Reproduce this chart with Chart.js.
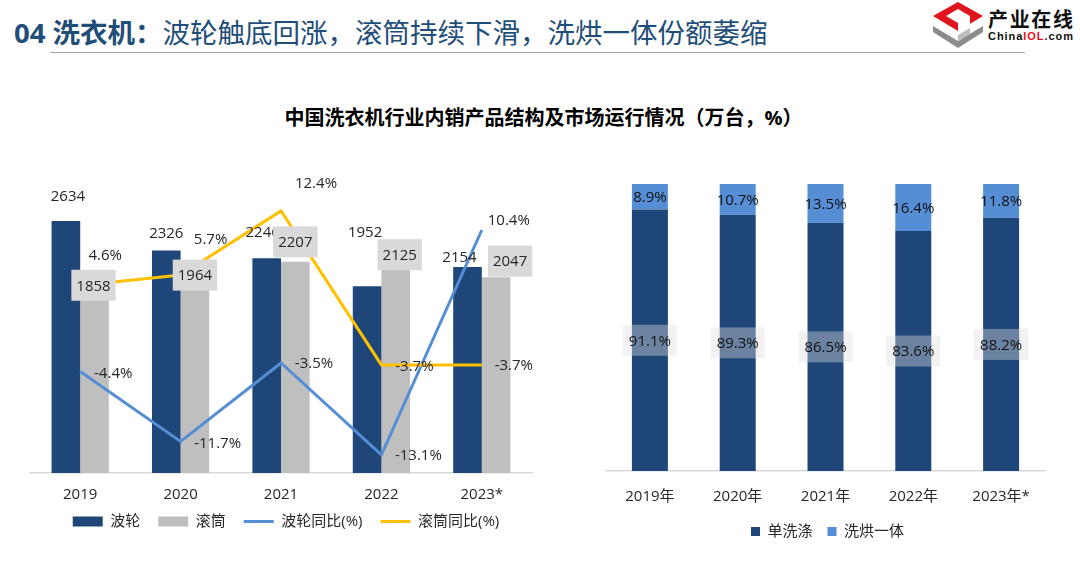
<!DOCTYPE html>
<html>
<head>
<meta charset="utf-8">
<script src="https://cdn.jsdelivr.net/npm/chart.js@4.4.0/dist/chart.umd.min.js"></script>
<style>
  html,body{margin:0;padding:0;}
  body{width:1080px;height:586px;background:#fff;position:relative;overflow:hidden;
       font-family:'Open Sans','Noto Sans CJK SC',sans-serif;}
  #title{position:absolute;left:14px;top:19px;font-size:27.5px;line-height:28px;color:#1F4E79;white-space:nowrap;}
  #title b{font-weight:700;}
  #rule{position:absolute;left:50px;top:52px;width:975px;height:1px;background:#a6a6a6;}
  #ctitle{position:absolute;left:0;width:1087px;top:107px;text-align:center;font-size:20px;line-height:22px;
          font-weight:700;color:#000;white-space:nowrap;}
  #c1wrap{position:absolute;left:0;top:140px;width:560px;height:411px;}
  #c2wrap{position:absolute;left:580px;top:140px;width:500px;height:410px;}
  #logo{position:absolute;left:925px;top:0;}
</style>
</head>
<body>
<div id="title"><b>04 洗衣机：</b>波轮触底回涨，滚筒持续下滑，洗烘一体份额萎缩</div>
<div id="rule"></div>
<svg id="logo" width="155" height="52" viewBox="0 0 155 52">
  <polygon points="33,2 58,16 33,31 8,16" fill="#e0151b"/>
  <polygon points="33,9 45,16 33,23 21,16" fill="#fff"/>
  <polygon points="33,16 45,16 45,28 33,35" fill="#fff"/>
  <polygon points="8,26 33,41 58,26 58,32 33,48 8,32" fill="#8c8c8c"/>
  <polygon points="33,35 45,28 45,34 33,41" fill="#bdbdbd"/>
  <text x="63" y="27" font-size="20" font-weight="700" fill="#111" textLength="85" font-family="'Noto Sans CJK SC',sans-serif">产业在线</text>
  <text x="63" y="40" font-size="11" font-weight="700" fill="#111" textLength="85" font-family="'Liberation Sans',Arial,sans-serif">China<tspan fill="#e0151b">IOL</tspan>.com</text>
</svg>
<div id="ctitle">中国洗衣机行业内销产品结构及市场运行情况（万台，%）</div>
<div id="c1wrap"><canvas id="c1"></canvas></div>
<div id="c2wrap"><canvas id="c2"></canvas></div>

<script>
// ---------- data ----------
const years = ['2019', '2020', '2021', '2022', '2023*'];
const pulsatorUnits = [2634, 2326, 2246, 1952, 2154];      // 波轮 (万台)
const drumUnits = [1858, 1964, 2207, 2125, 2047];          // 滚筒 (万台)
const pulsatorYoY = [-4.4, -11.7, -3.5, -13.1, 10.4];      // 波轮同比 (%)
const drumYoY = [4.6, 5.7, 12.4, -3.7, -3.7];              // 滚筒同比 (%)

const yearsCN = ['2019年', '2020年', '2021年', '2022年', '2023年*'];
const singleWashShare = [91.1, 89.3, 86.5, 83.6, 88.2];    // 单洗涤 (%)
const washDryShare = [8.9, 10.7, 13.5, 16.4, 11.8];        // 洗烘一体 (%)

// ---------- label placement (styling only) ----------
const offPulsator = [[2,-25],[0,-18],[-4,-26],[-2,-55],[-8,-10]];
const offDrum = [[-1,-10],[0,-10],[0,-20],[4,-15],[14,-16]];
const offPulsatorYoY = [[33,1],[37,1],[33,0],[37,0],[27,-10]];
const offDrumYoY = [[25,-31],[30,-36],[35,-28],[33,1],[32,0]];

// ---------- styles ----------
const FONT = "'Open Sans','Noto Sans CJK SC',sans-serif";
const NAVY = '#1F4679';
const GRAY = '#BFBFBF';
const BLUE = '#558ED5';
const GOLD = '#FFC000';
const LIGHTBLUE = '#558ED5';
const TXT = '#262626';

Chart.defaults.font.family = FONT;
Chart.defaults.color = TXT;

function makeLabels(items) {
  return {
    id: 'valueLabels',
    afterDatasetsDraw(chart) {
      const ctx = chart.ctx;
      items.forEach(item => {
        const meta = chart.getDatasetMeta(item.dataset);
        const values = chart.data.datasets[item.dataset].data;
        meta.data.forEach((el, i) => {
          const text = item.format(values[i]);
          let x = el.x;
          let y = item.anchor === 'center' ? (el.y + el.base) / 2 : el.y;
          const off = item.offsets ? item.offsets[i] : [0, 0];
          x += off[0]; y += off[1];
          ctx.save();
          ctx.font = (item.size || 15) + 'px ' + FONT;
          ctx.textAlign = 'center';
          ctx.textBaseline = 'middle';
          if (item.box) {
            const w = ctx.measureText(text).width + item.box.padX * 2;
            const h = item.box.h;
            ctx.fillStyle = item.box.color;
            ctx.fillRect(x - w / 2, y - h / 2, w, h);
          }
          ctx.fillStyle = item.color || TXT;
          ctx.fillText(text, x, y + 1);
          ctx.restore();
        });
      });
    }
  };
}

// moves the legend so it sits closer to the tick labels
function legendShift(dx, dy) {
  return {
    id: 'legendShift',
    afterLayout(chart) {
      const l = chart.legend;
      if (l) { l.top -= dy; l.bottom -= dy; l.left += dx; l.right += dx; }
    }
  };
}

const pct = v => v.toFixed(1) + '%';
const num = v => String(v);

// ---------- left chart ----------
new Chart(document.getElementById('c1'), {
  type: 'bar',
  data: {
    labels: years,
    datasets: [
      { label: '波轮', data: pulsatorUnits, backgroundColor: NAVY, yAxisID: 'y', order: 2 },
      { label: '滚筒', data: drumUnits, backgroundColor: GRAY, yAxisID: 'y', order: 2 },
      { type: 'line', label: '波轮同比(%)', data: pulsatorYoY, borderColor: BLUE, backgroundColor: BLUE,
        borderWidth: 3, pointRadius: 0, tension: 0, yAxisID: 'y1', order: 1 },
      { type: 'line', label: '滚筒同比(%)', data: drumYoY, borderColor: GOLD, backgroundColor: GOLD,
        borderWidth: 3, pointRadius: 0, tension: 0, yAxisID: 'y1', order: 0 }
    ]
  },
  options: {
    animation: false,
    responsive: true,
    maintainAspectRatio: false,
    layout: { padding: { left: 30, right: 28, top: 46, bottom: 1 } },
    datasets: { bar: { categoryPercentage: 0.57, barPercentage: 1.0 } },
    scales: {
      x: {
        grid: { display: false, drawTicks: false },
        border: { display: true, color: '#d9d9d9', width: 1.5 },
        ticks: { padding: 13, font: { size: 15 }, color: TXT },
        afterFit(s) { s.height = 34; }
      },
      y: { display: false, min: 0, max: 3000 },
      y1: { display: false, min: -15, max: 15 }
    },
    plugins: {
      tooltip: { enabled: false },
      legend: {
        position: 'bottom',
        labels: {
          usePointStyle: true,
          pointStyleWidth: 30,
          boxHeight: 10,
          padding: 18,
          color: TXT,
          font: { size: 15 },
          generateLabels(chart) {
            const list = Chart.defaults.plugins.legend.labels.generateLabels(chart);
            list.forEach(it => {
              it.pointStyle = chart.data.datasets[it.datasetIndex].type === 'line' ? 'line' : 'rect';
            });
            return list.sort((a, b) => a.datasetIndex - b.datasetIndex);
          }
        }
      }
    }
  },
  plugins: [legendShift(5, 11), makeLabels([
    { dataset: 0, format: num, offsets: offPulsator },
    { dataset: 2, format: pct, offsets: offPulsatorYoY },
    { dataset: 3, format: pct, offsets: offDrumYoY },
    { dataset: 1, format: num, offsets: offDrum, box: { color: '#D9D9D9', padX: 5, h: 31 } }
  ])]
});

// ---------- right chart ----------
new Chart(document.getElementById('c2'), {
  type: 'bar',
  data: {
    labels: yearsCN,
    datasets: [
      { label: '单洗涤', data: singleWashShare, backgroundColor: NAVY },
      { label: '洗烘一体', data: washDryShare, backgroundColor: LIGHTBLUE }
    ]
  },
  options: {
    animation: false,
    responsive: true,
    maintainAspectRatio: false,
    layout: { padding: { left: 26, right: 35, top: 44, bottom: 1 } },
    datasets: { bar: { categoryPercentage: 1.0, barPercentage: 0.41 } },
    scales: {
      x: {
        stacked: true,
        grid: { display: false, drawTicks: false },
        border: { display: true, color: '#d9d9d9', width: 1.5 },
        ticks: { padding: 17, font: { size: 15 }, color: TXT },
        afterFit(s) { s.height = 38; }
      },
      y: { stacked: true, display: false, min: 0, max: 100 }
    },
    plugins: {
      tooltip: { enabled: false },
      legend: {
        position: 'bottom',
        labels: { boxWidth: 9, boxHeight: 9, padding: 15, color: TXT, font: { size: 15 } }
      }
    }
  },
  plugins: [legendShift(2, 0), makeLabels([
    { dataset: 0, format: pct, anchor: 'center', color: '#111', box: { color: 'rgba(222,222,222,0.4)', padX: 6, h: 31 } },
    { dataset: 1, format: pct, anchor: 'center', color: '#111' }
  ])]
});
</script>
</body>
</html>
